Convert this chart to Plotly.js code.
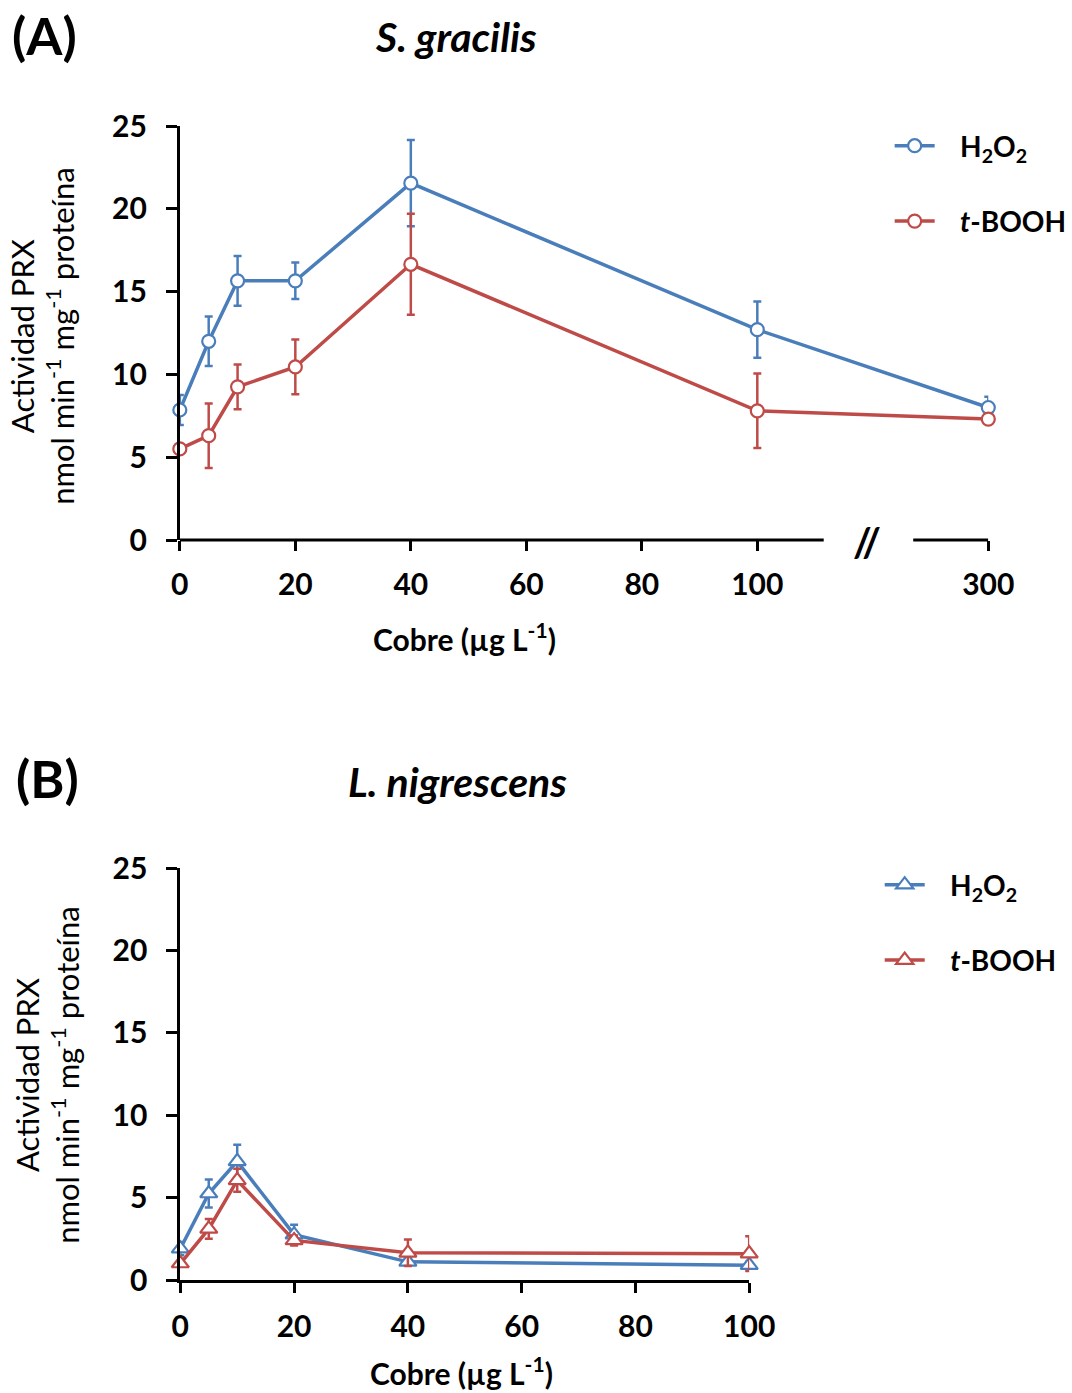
<!DOCTYPE html>
<html><head><meta charset="utf-8">
<script src="https://cdn.plot.ly/plotly-3.0.1.min.js"></script>
<style>html,body{margin:0;padding:0;background:#fff}#chart{width:1072px;height:1393px}</style>
</head><body><div id="chart"></div>
<script>
// Panel A: S. gracilis
const concA = [0, 5, 10, 20, 40, 100, 300];
const h2o2A = [7.85, 12.0, 15.65, 15.65, 21.55, 12.7, 8.0];
const h2o2A_err = [0.9, 1.5, 1.5, 1.1, 2.6, 1.7, 0.65];
const tboohA = [5.5, 6.3, 9.25, 10.45, 16.65, 7.8, 7.3];
const tboohA_err = [0.25, 1.95, 1.35, 1.65, 3.05, 2.25, 0.2];
const tickLabelsA = ['0', '20', '40', '60', '80', '100', '300'];
const tickConcA = [0, 20, 40, 60, 80, 100, 300];

// Panel B: L. nigrescens
const concB = [0, 5, 10, 20, 40, 100];
const h2o2B = [1.9, 5.25, 7.2, 2.75, 1.1, 0.9];
const h2o2B_err = [0.4, 0.85, 1.0, 0.6, 0.2, 0.2];
const tboohB = [1.0, 3.1, 6.05, 2.4, 1.65, 1.6];
const tboohB_err = [0.2, 0.6, 0.7, 0.3, 0.8, 1.05];
const tickLabelsB = ['0', '20', '40', '60', '80', '100'];
const tickConcB = [0, 20, 40, 60, 80, 100];
const yTicks = [0, 5, 10, 15, 20, 25];

const seriesNames = ['H<sub>2</sub>O<sub>2</sub>', '<i>t</i>-BOOH'];

// broken axis: 300 drawn at position 140, break between 111.5 and 127
const BREAK_POS = 140;
const brk = c => (c > 100 ? BREAK_POS : c);

const BLUE = '#4a7ebb', RED = '#be4b48';
const FONT = 'Lato, "Open Sans", sans-serif';
const W = 1072, H = 1393;
const px = v => v / W, py = v => 1 - v / H;
const SP = '\u00a0\u00a0\u00a0';

function tr(x, y, err, color, name, sym, size, xa, ya, legend) {
  return {
    type: 'scatter', mode: 'lines+markers', x: x, y: y, name: SP + name,
    xaxis: xa, yaxis: ya, legend: legend, showlegend: true, cliponaxis: false,
    line: {color: color, width: 3.5},
    marker: {symbol: sym, size: size, color: '#ffffff', line: {color: color, width: 2.2}},
    error_y: {type: 'data', array: err, visible: true, color: color, thickness: 2.5, width: 4}
  };
}

const data = [
  tr(concA.map(brk), h2o2A, h2o2A_err, BLUE, seriesNames[0], 'circle', 13, 'x', 'y', 'legend'),
  tr(concA.map(brk), tboohA, tboohA_err, RED, seriesNames[1], 'circle', 13, 'x', 'y', 'legend'),
  tr(concB, h2o2B, h2o2B_err, BLUE, seriesNames[0], 'triangle-up', 15, 'x2', 'y2', 'legend2'),
  tr(concB, tboohB, tboohB_err, RED, seriesNames[1], 'triangle-up', 15, 'x2', 'y2', 'legend2')
];
data.forEach((d, i) => { d.legendgroup = 'g' + i; });

const tickFont = {family: FONT, size: 30, color: '#000', weight: 'bold'};
const yAxisCommon = {
  range: [0, 25], tickvals: yTicks, ticks: 'outside', ticklen: 11, tickwidth: 3, tickcolor: '#000',
  showline: true, linewidth: 3, linecolor: '#000', showgrid: false, zeroline: false,
  tickfont: tickFont, ticklabelstandoff: 13
};
const xAxisCommon = {
  ticks: 'outside', ticklen: 10, tickwidth: 3, tickcolor: '#000',
  showgrid: false, zeroline: false, tickfont: tickFont, ticklabelstandoff: 8
};

const legendCommon = {
  font: {family: FONT, size: 28, color: '#000', weight: 'bold'},
  xanchor: 'left', yanchor: 'top', traceorder: 'grouped', tracegroupgap: 36,
  bgcolor: 'rgba(0,0,0,0)', itemwidth: 40
};

const titleFont = {family: FONT, size: 31, color: '#000'};
function ann(text, x, y, font, extra) {
  return Object.assign({text: text, xref: 'paper', yref: 'paper', x: px(x), y: py(y),
    xanchor: 'center', yanchor: 'middle', showarrow: false, font: font}, extra || {});
}
const yTitle = 'Actividad PRX<br>nmol min<sup>-1</sup> mg<sup>-1</sup> proteína';
const xTitle = 'Cobre (µg L<sup>-1</sup>)';

const layout = {
  width: W, height: H, margin: {l: 0, r: 0, t: 0, b: 0},
  paper_bgcolor: '#fff', plot_bgcolor: '#fff',
  xaxis: Object.assign({
    domain: [px(180.5), px(992)], anchor: 'y', range: [0, BREAK_POS],
    tickvals: tickConcA.map(brk), ticktext: tickLabelsA, showline: false
  }, xAxisCommon),
  yaxis: Object.assign({domain: [py(540), py(126)], anchor: 'x'}, yAxisCommon),
  xaxis2: Object.assign({
    domain: [px(181), px(752)], anchor: 'y2', range: [0, 100],
    tickvals: tickConcB, ticktext: tickLabelsB, showline: true, linewidth: 3, linecolor: '#000'
  }, xAxisCommon),
  yaxis2: Object.assign({domain: [py(1280), py(868)], anchor: 'x2'}, yAxisCommon),
  legend: Object.assign({x: px(893), y: py(121)}, legendCommon),
  legend2: Object.assign({x: px(883), y: py(860)}, legendCommon),
  shapes: [
    {type: 'line', xref: 'x', yref: 'paper', x0: 0, x1: 111.5, y0: py(540), y1: py(540), line: {color: '#000', width: 3}},
    {type: 'line', xref: 'x', yref: 'paper', x0: 127, x1: BREAK_POS, y0: py(540), y1: py(540), line: {color: '#000', width: 3}}
  ],
  annotations: [
    {text: '//', xref: 'x', yref: 'paper', x: 119, y: py(542), xanchor: 'center', yanchor: 'middle', showarrow: false,
     font: {family: FONT, size: 40, color: '#000', weight: 'bold'}},
    ann('(A)', 45, 35, {family: FONT, size: 52, color: '#000', weight: 'bold'}),
    ann('<i>S. gracilis</i>', 458, 36, {family: FONT, size: 41, color: '#000', weight: 'bold'}),
    ann('(B)', 48, 778, {family: FONT, size: 52, color: '#000', weight: 'bold'}),
    ann('<i>L. nigrescens</i>', 459, 781, {family: FONT, size: 41, color: '#000', weight: 'bold'}),
    ann(xTitle, 466, 637, {family: FONT, size: 30, color: '#000', weight: 'bold'}),
    ann(xTitle, 463, 1371, {family: FONT, size: 30, color: '#000', weight: 'bold'}),
    ann(yTitle, 42, 336, titleFont, {textangle: -90}),
    ann(yTitle, 47, 1075, titleFont, {textangle: -90})
  ]
};

Plotly.newPlot('chart', data, layout, {displayModeBar: false, staticPlot: true});
</script></body></html>
